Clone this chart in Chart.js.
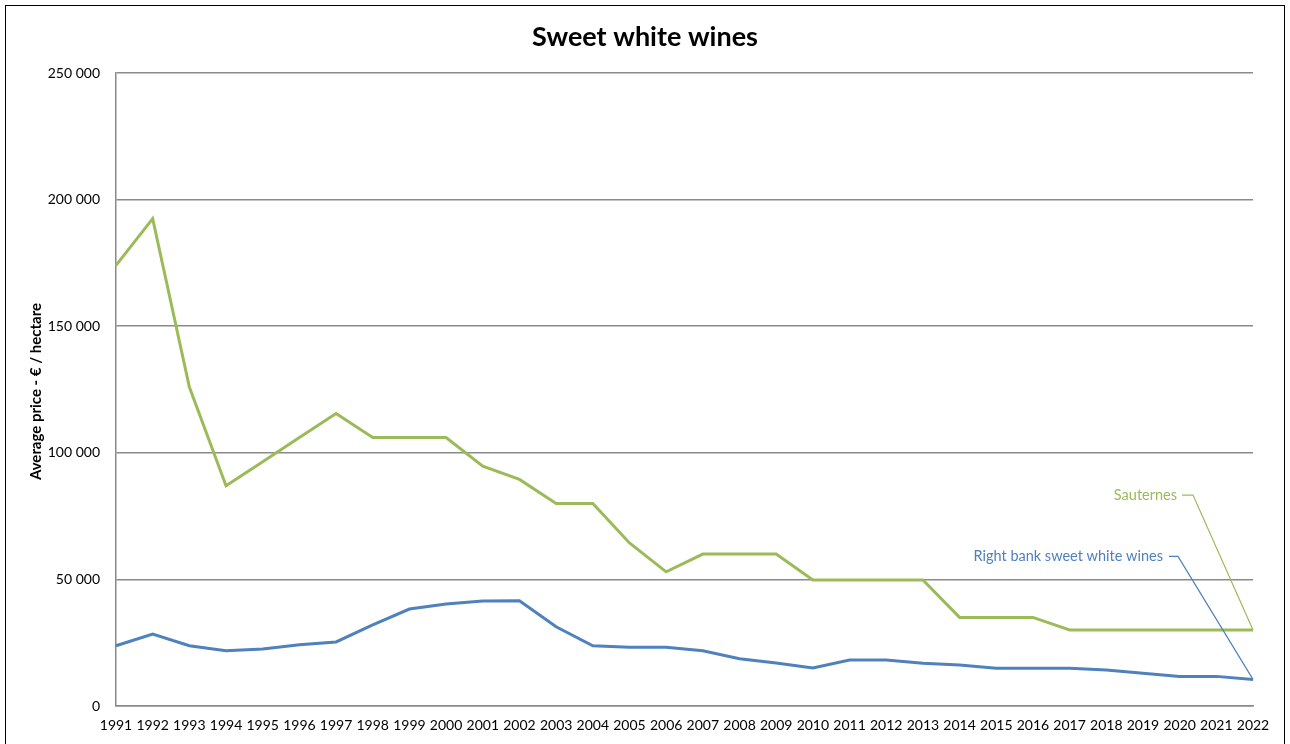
<!DOCTYPE html>
<html>
<head>
<meta charset="utf-8">
<script src="https://cdn.jsdelivr.net/npm/chart.js@4.4.1/dist/chart.umd.min.js"></script>
<style>
  html, body { margin: 0; padding: 0; background: #fff; }
  #wrap { position: relative; width: 1290px; height: 744px; overflow: hidden; }
  #frame { position: absolute; left: 5px; top: 5px; width: 1280px; height: 760px; border: 1px solid #000; box-sizing: border-box; pointer-events: none; }
  canvas { display: block; }
</style>
</head>
<body>
<div id="wrap">
  <canvas id="c" width="1290" height="744"></canvas>
  <div id="frame"></div>
</div>
<script>
// Vintages (x axis)
const years = ['1991','1992','1993','1994','1995','1996','1997','1998','1999','2000','2001','2002','2003','2004','2005','2006','2007','2008','2009','2010','2011','2012','2013','2014','2015','2016','2017','2018','2019','2020','2021','2022'];

// Average price per hectare, euros
const sauternes = [174000,192500,126000,87000,96500,106000,115500,106000,106000,106000,94700,89500,80000,80000,64400,53000,60000,60000,60000,49800,49800,49800,49800,35000,35000,35000,30000,30000,30000,30000,30000,30000];
const rightBank = [23800,28400,23800,21800,22500,24200,25300,32000,38300,40300,41500,41600,31300,23800,23200,23200,21800,18700,17000,15000,18200,18200,16900,16200,14900,14900,14900,14200,12900,11700,11700,10500];

// Y axis ticks
const yTicks = [0, 50000, 100000, 150000, 200000, 250000];

const seriesNames = ['Sauternes', 'Right bank sweet white wines'];
const seriesColors = ['#9BBB59', '#4F81BD'];

const FONT = "Lato, 'Open Sans', 'DejaVu Sans', sans-serif";

function fmt(v) {
  return String(Math.round(v)).replace(/\B(?=(\d{3})+(?!\d))/g, ' ');
}

// Title, y-axis title and end-of-line series labels with leader lines
const decorations = {
  id: 'decorations',
  afterDraw(chart) {
    const ctx = chart.ctx;
    const ca = chart.chartArea;
    ctx.save();
    ctx.fillStyle = '#000';
    ctx.font = 'bold 27px ' + FONT;
    ctx.textAlign = 'center';
    ctx.textBaseline = 'middle';
    ctx.fillText('Sweet white wines', chart.width / 2, 37);

    ctx.translate(36, (ca.top + ca.bottom) / 2 + 2);
    ctx.rotate(-Math.PI / 2);
    ctx.font = 'bold 15px ' + FONT;
    ctx.fillText('Average price - € / hectare', 0, 0);
    ctx.restore();

    // labels placed above-left of each last point
    const place = [
      { dx: -60, dy: -135, tick: 11, gap: 16 },
      { dx: -75, dy: -123, tick: 9, gap: 15 }
    ];
    chart.data.datasets.forEach((ds, i) => {
      const meta = chart.getDatasetMeta(i);
      const pt = meta.data[meta.data.length - 1];
      const p = place[i];
      const lx = pt.x + p.dx;
      const ly = pt.y + p.dy;
      ctx.save();
      ctx.strokeStyle = ds.borderColor;
      ctx.lineWidth = 1.2;
      ctx.beginPath();
      ctx.moveTo(lx - p.tick, ly);
      ctx.lineTo(lx, ly);
      ctx.lineTo(pt.x, pt.y);
      ctx.stroke();
      ctx.fillStyle = ds.borderColor;
      ctx.font = '14.5px ' + FONT;
      ctx.textAlign = 'right';
      ctx.textBaseline = 'middle';
      ctx.fillText(ds.label, lx - p.gap, ly);
      ctx.restore();
    });
  }
};

new Chart(document.getElementById('c'), {
  type: 'line',
  data: {
    labels: years,
    datasets: [
      { label: seriesNames[0], data: sauternes, borderColor: seriesColors[0], backgroundColor: seriesColors[0], borderWidth: 3, pointRadius: 0, tension: 0, fill: false },
      { label: seriesNames[1], data: rightBank, borderColor: seriesColors[1], backgroundColor: seriesColors[1], borderWidth: 3, pointRadius: 0, tension: 0, fill: false }
    ]
  },
  options: {
    responsive: false,
    animation: false,
    layout: { padding: { left: 0, top: 73, right: 37, bottom: 0 } },
    plugins: { legend: { display: false }, tooltip: { enabled: false }, title: { display: false } },
    scales: {
      x: {
        type: 'category',
        offset: false,
        grid: { display: false, drawTicks: false },
        border: { display: true, color: '#8a8a8a', width: 1.5 },
        ticks: { color: '#000', font: { family: FONT, size: 14 }, autoSkip: false, maxRotation: 0, minRotation: 0, padding: 11 },
        afterFit(scale) { scale.height = 38; }
      },
      y: {
        min: 0,
        max: 250000,
        afterBuildTicks(scale) { scale.ticks = yTicks.map(v => ({ value: v })); },
        grid: { color: '#8a8a8a', lineWidth: 1.5, drawTicks: false },
        border: { display: true, color: '#8a8a8a', width: 1.5 },
        ticks: { color: '#000', font: { family: FONT, size: 14 }, padding: 16, callback: v => fmt(v) },
        afterFit(scale) { scale.width = 116; }
      }
    }
  },
  plugins: [decorations]
});
</script>
</body>
</html>
